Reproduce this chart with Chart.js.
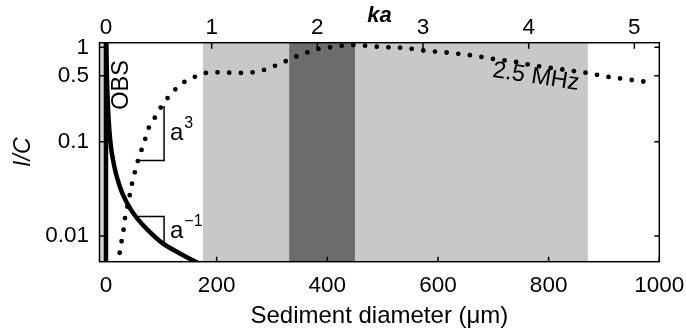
<!DOCTYPE html>
<html>
<head>
<meta charset="utf-8">
<script src="https://cdn.jsdelivr.net/npm/chart.js@4.4.0/dist/chart.umd.min.js"></script>
<style>
  html, body { margin: 0; padding: 0; background: #fff; }
  #wrap { width: 686px; height: 333px; }
</style>
</head>
<body>
<div id="wrap"><canvas id="icChart" width="686" height="333"></canvas></div>
<script>
// 2.5 MHz acoustic response, sediment diameter (um) vs I/C
const acousticDiam = [22.5, 23.5, 26.6, 31.3, 34.3, 43.4, 47.5, 52.4, 58.4, 66.3, 77.7, 88.5, 100.6, 112.6, 128.8, 144, 164, 182, 197, 218, 239, 262, 282, 302, 322, 343, 363, 383, 405, 427, 448, 469, 488, 510, 531, 554, 575, 596, 618, 638, 659, 682, 703, 724, 745, 766, 787, 808, 831, 853, 874, 897, 918, 941, 962, 983];
const acousticIC = [0.0050, 0.0059, 0.0078, 0.0111, 0.0154, 0.0279, 0.0367, 0.0481, 0.065, 0.0885, 0.142, 0.181, 0.239, 0.296, 0.377, 0.440, 0.497, 0.539, 0.545, 0.54, 0.535, 0.54, 0.566, 0.624, 0.700, 0.797, 0.879, 0.962, 1.0, 1.04, 1.06, 1.04, 1.017, 1.0, 0.993, 0.962, 0.923, 0.900, 0.879, 0.851, 0.824, 0.785, 0.748, 0.723, 0.695, 0.651, 0.624, 0.600, 0.576, 0.553, 0.531, 0.497, 0.477, 0.459, 0.440, 0.427];

// optical backscatter response
const obsDiam = [0.5, 1, 2, 4, 6, 9, 13, 18, 24, 30, 45, 57, 78, 102, 132, 160, 175];
const obsIC = [1.2, 0.8, 0.42, 0.21, 0.135, 0.088, 0.063, 0.046, 0.035, 0.028, 0.019, 0.0152, 0.0112, 0.0084, 0.0066, 0.0054, 0.0049];
const obsLineDiam = [0, 0];
const obsLineIC = [0.001, 10];

// shaded diameter ranges
const edgeBand = [-11.7, -2];
const lightBand = [175, 871];
const darkBand = [331, 450];

// slope guides
const cubeGuideDiam = [58, 105, 105];
const cubeGuideIC = [0.063, 0.063, 0.239];
const invGuideDiam = [57, 105, 105];
const invGuideIC = [0.0161, 0.0161, 0.0087];

const diamTicks = [0, 200, 400, 600, 800, 1000];
const kaTicks = [0, 1, 2, 3, 4, 5];
const icTicks = [0.01, 0.1, 0.5, 1];

const diamRange = [-11.7, 1000];
const icRange = [0.00534, 1.12];
const kaPerMicron = 0.005236;

const FONT = '"Liberation Sans", Arial, Helvetica, sans-serif';

function pts(xs, ys) {
    return xs.map((x, i) => ({ x: x, y: ys[i] }));
}

function band(range, color) {
    return {
        data: [{ x: range[0], y: 10 }, { x: range[1], y: 10 }],
        borderWidth: 0,
        backgroundColor: color,
        fill: 'start',
        pointRadius: 0
    };
}

function guide(xs, ys) {
    return {
        data: pts(xs, ys),
        borderColor: '#000',
        borderWidth: 1.5,
        pointRadius: 0,
        fill: false
    };
}

// fixed box sizes, no extra room for overhanging tick labels
function fixBox(size) {
    return s => {
        if (s.isHorizontal()) s.height = size; else s.width = size;
        s.paddingLeft = s.paddingRight = s.paddingTop = s.paddingBottom = 0;
    };
}

function drawPower(ctx, base, exp, x, y) {
    ctx.font = '24px ' + FONT;
    ctx.textAlign = 'left';
    ctx.textBaseline = 'alphabetic';
    ctx.fillText(base, x, y);
    const w = ctx.measureText(base).width;
    ctx.font = '16px ' + FONT;
    ctx.fillText(exp, x + w + 1, y - 12);
}

const framePlugin = {
    id: 'frame',
    afterDatasetsDraw(chart) {
        const { ctx, chartArea: a, scales } = chart;
        ctx.save();
        ctx.strokeStyle = '#000';
        ctx.fillStyle = '#000';
        ctx.lineWidth = 1.5;

        // inward tick marks
        ctx.beginPath();
        diamTicks.forEach(v => {
            const px = scales.x.getPixelForValue(v);
            ctx.moveTo(px, a.bottom);
            ctx.lineTo(px, a.bottom - 5);
        });
        kaTicks.forEach(v => {
            const px = scales.ka.getPixelForValue(v);
            ctx.moveTo(px, a.top);
            ctx.lineTo(px, a.top + 6);
        });
        icTicks.forEach(v => {
            const py = scales.y.getPixelForValue(v);
            ctx.moveTo(a.left, py);
            ctx.lineTo(a.left + 5, py);
            ctx.moveTo(a.right, py);
            ctx.lineTo(a.right - 5, py);
        });
        ctx.stroke();
        ctx.strokeRect(a.left, a.top, a.right - a.left, a.bottom - a.top);

        // curve labels
        const px = v => scales.x.getPixelForValue(v);
        const py = v => scales.y.getPixelForValue(v);

        ctx.save();
        ctx.translate(px(28.5), py(0.40));
        ctx.rotate(-Math.PI / 2);
        ctx.font = '23.5px ' + FONT;
        ctx.textAlign = 'center';
        ctx.textBaseline = 'middle';
        ctx.fillText('OBS', 0, 0);
        ctx.restore();

        ctx.save();
        ctx.translate(px(777), py(0.485));
        ctx.rotate(0.152);
        ctx.font = '23.5px ' + FONT;
        ctx.textAlign = 'center';
        ctx.textBaseline = 'middle';
        ctx.fillText('2.5 MHz', 0, 0);
        ctx.restore();

        drawPower(ctx, 'a', '3', px(115.7), py(0.104));
        drawPower(ctx, 'a', '\u22121', px(115.7), py(0.00951));

        ctx.restore();
    }
};

const tickFont = { family: FONT, size: 22.5 };
const titleFont = { family: FONT, size: 24 };

new Chart(document.getElementById('icChart'), {
    type: 'line',
    data: {
        datasets: [
            guide(cubeGuideDiam, cubeGuideIC),
            guide(invGuideDiam, invGuideIC),
            {
                data: pts(acousticDiam, acousticIC),
                borderColor: '#000',
                borderWidth: 4.8,
                borderDash: [0, 11.7],
                borderCapStyle: 'round',
                pointRadius: 0,
                fill: false
            },
            {
                data: pts(obsDiam, obsIC),
                borderColor: '#000',
                borderWidth: 4.5,
                cubicInterpolationMode: 'monotone',
                pointRadius: 0,
                fill: false
            },
            {
                data: pts(obsLineDiam, obsLineIC),
                borderColor: '#000',
                borderWidth: 4.5,
                pointRadius: 0,
                fill: false
            },
            band(darkBand, '#6c6c6c'),
            band(lightBand, '#c8c8c8'),
            band(edgeBand, '#d6d6d6')
        ]
    },
    options: {
        responsive: false,
        animation: false,
        devicePixelRatio: 1,
        layout: { padding: { left: 0, right: 26.7, top: 0, bottom: 0 } },
        plugins: {
            legend: { display: false },
            tooltip: { enabled: false }
        },
        scales: {
            x: {
                type: 'linear',
                position: 'bottom',
                min: diamRange[0],
                max: diamRange[1],
                afterBuildTicks: s => { s.ticks = diamTicks.map(v => ({ value: v })); },
                afterFit: fixBox(71.3),
                grid: { display: false, drawTicks: false },
                border: { display: false },
                ticks: { padding: 10.8, color: '#000', font: tickFont, maxRotation: 0, autoSkip: false, callback: v => String(v) },
                title: { display: true, text: 'Sediment diameter (\u03bcm)', color: '#000', font: titleFont, padding: { top: 0, bottom: 2.6 } }
            },
            ka: {
                type: 'linear',
                position: 'top',
                min: diamRange[0] * kaPerMicron,
                max: diamRange[1] * kaPerMicron,
                afterBuildTicks: s => { s.ticks = kaTicks.map(v => ({ value: v })); },
                afterFit: fixBox(42.7),
                grid: { display: false, drawTicks: false },
                border: { display: false },
                ticks: { padding: 1.2, color: '#000', font: tickFont, maxRotation: 0, autoSkip: false, callback: v => String(v) },
                title: { display: true, text: 'ka', color: '#000', font: { family: FONT, size: 22, style: 'italic', weight: 'bold' }, padding: { top: 3.2, bottom: 0 } }
            },
            y: {
                type: 'logarithmic',
                position: 'left',
                min: icRange[0],
                max: icRange[1],
                afterBuildTicks: s => { s.ticks = icTicks.map(v => ({ value: v })); },
                afterFit: fixBox(99.5),
                grid: { display: false, drawTicks: false },
                border: { display: false },
                ticks: { padding: 10.5, color: '#000', font: tickFont, autoSkip: false, callback: v => String(v) },
                title: { display: true, text: 'I/C', color: '#000', font: { family: FONT, size: 23, style: 'italic' }, padding: { top: 9.5, bottom: 0 } }
            }
        }
    },
    plugins: [framePlugin]
});
</script>
</body>
</html>
